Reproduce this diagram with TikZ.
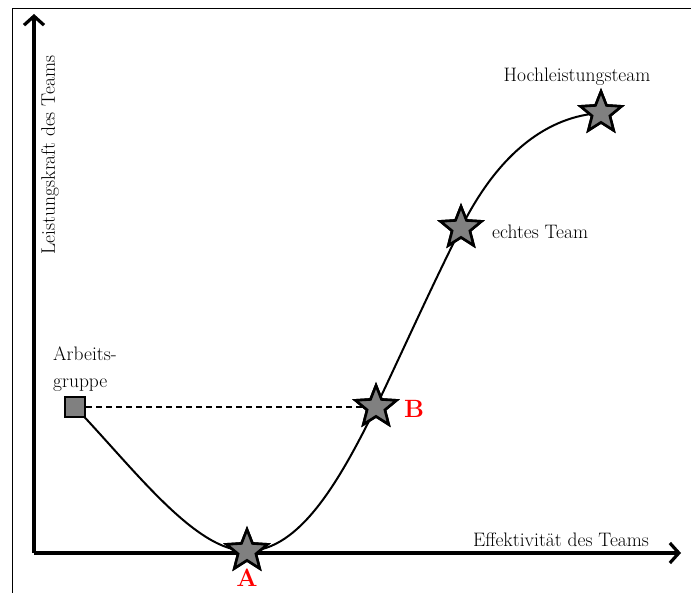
\documentclass[tikz,border=0pt]{standalone}
\usepackage{fontspec}
\usepackage{xcolor}
\usetikzlibrary{arrows.meta,positioning,shapes.geometric}

\tikzset{
  stern/.style={star, star points=5, star point ratio=2.3, minimum size=43pt, inner sep=0pt,
    draw=black, fill=black!50, line width=2.6pt},
  kasten/.style={rectangle, minimum size=20pt, inner sep=0pt, draw=black, fill=black!50, line width=2.4pt},
  achse/.style={line width=3.2pt, -{Straight Barb[length=9pt,width=20pt]}},
  kurve/.style={line width=2pt},
  beschr/.style={font=\fontsize{19.5}{27}\selectfont, text=black, inner sep=0pt},
  punkt/.style={font=\fontsize{25}{26}\selectfont\bfseries, text=red, inner sep=0pt}
}

\begin{document}
\begin{tikzpicture}[x=1pt,y=-1pt]
\useasboundingbox (0,0) rectangle (691,593);
% Rahmen
\draw[line width=1.6pt] (12.5,593) -- (12.5,8.5) -- (691,8.5);
% Achsen
\coordinate (ursprung) at (34,553);
\coordinate (yspitze) at (34,14);
\coordinate (xspitze) at (681,553);
\draw[achse] (ursprung) -- (yspitze);
\draw[achse] (ursprung) -- (xspitze);
\node[beschr, rotate=90] (ylabel) at (50,155) {Leistungskraft des Teams};
\node[beschr] (xlabel) at (561,540) {Effektivit\"at des Teams};
% Kurve
\node[kasten] (gruppe) at (75,407) {};
\node[stern] (a) at (247,551) {};
\node[stern] (b) at (376,407) {};
\node[stern] (echt) at (461,228) {};
\node[stern] (hoch) at (601,113) {};
\draw[kurve] (gruppe.center) .. controls (135,470) and (195,551) .. (a.center)
  .. controls (300,551) and (340,480) .. (b.center)
  .. controls (410,335) and (430,290) .. (echt.center)
  .. controls (500,150) and (550,116) .. (hoch.center);
\draw[line width=1.2pt, dash pattern=on 6pt off 4pt] (gruppe.east) -- (b.center);
% Knoten nochmal oben drauf
\node[kasten] at (gruppe) {};
\node[stern] at (a) {};
\node[stern] at (b) {};
\node[stern] at (echt) {};
\node[stern] at (hoch) {};
% Beschriftungen
\node[beschr, align=left, anchor=south west] (arbeit) at (53,392) {Arbeits-\\gruppe};
\node[beschr, anchor=west] (echtlabel) at (492,232) {echtes Team};
\node[beschr] (hochlabel) at (577,77) {Hochleistungsteam};
\node[punkt] (alabel) at (247,578) {A};
\node[punkt] (blabel) at (414,409) {B};
\end{tikzpicture}
\end{document}
